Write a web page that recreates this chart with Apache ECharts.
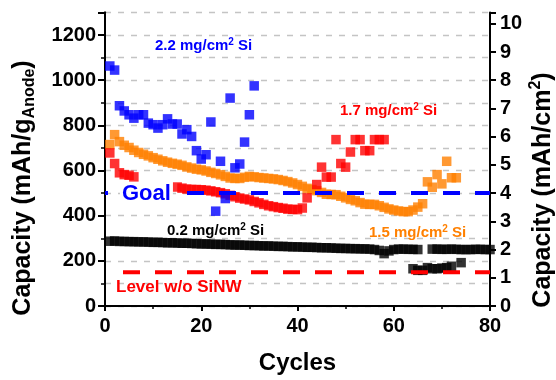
<!DOCTYPE html>
<html>
<head>
<meta charset="utf-8">
<script src="https://cdn.jsdelivr.net/npm/echarts@6/dist/echarts.min.js"></script>
<style>
  html, body { margin: 0; padding: 0; background: #fff; }
  #chart { width: 556px; height: 380px; }
</style>
</head>
<body>
<div id="chart"></div>
<script>
// Specific capacity (mAh/g anode) versus cycle number for four Si loadings.
const loading22Cycles = [1,2,3,4,5,6,7,8,9,10,11,12,13,14,15,16,17,18,19,20,21,22,23,24,25,26,27,28,29,30,31];
const loading22Values = [1063,1045,887,864,847,832,847,847,810,803,788,803,829,806,806,762,781,751,688,651,670,815,420,641,476,921,612,629,726,847,975];

const loading17Cycles = [1,2,3,4,5,6,
  15,16,17,18,19,20,21,22,23,24,25,26,27,28,29,30,31,32,33,34,35,36,37,38,39,40,41,
  42,44,45,46,47,48,49,50,51,52,53,54,55,56,57,58];
const loading17Values = [678,631,590,582,579,572,
  527,522,518,516,516,515,513,510,506,502,497,490,484,478,474,470,463,457,450,444,440,436,433,429,428,427,434,
  479,538,615,571,571,737,631,615,682,737,737,688,688,737,737,737];

const loading15Cycles = [1,2,3,4,5,6,7,8,9,10,11,12,13,14,15,16,17,18,19,20,21,22,23,24,25,26,27,28,29,30,
  31,32,33,34,35,36,37,38,39,40,41,42,43,44,45,46,47,48,49,50,51,52,53,54,55,56,57,58,59,60,
  61,62,63,64,65,66,67,68,69,70,71,72,73];
const loading15Values = [715,759,728,712,702,690,680,672,665,657,650,643,637,632,628,623,616,611,606,603,598,592,587,581,574,567,565,565,570,574,
  572,569,567,565,563,560,556,551,545,538,530,521,516,511,503,495,494,493,486,479,472,466,458,451,450,450,444,437,430,425,
  421,418,418,425,438,453,550,526,582,541,641,568,568];

const loading02Cycles = [1,2,3,4,5,6,7,8,9,10,11,12,13,14,15,16,17,18,19,20,21,22,23,24,25,26,27,28,29,30,
  31,32,33,34,35,36,37,38,39,40,41,42,43,44,45,46,47,48,49,50,51,52,53,54,55,56,57,58,59,60,
  61,62,63,64,65,68,69,70,71,72,73,74,75,76,77,78,79,80,
  64,65,66,67,68,69,70,71,72,74];
const loading02Values = [287,288,286,286,285,285,284,284,283,282,282,281,280,280,279,278,278,277,276,275,275,274,273,273,272,271,270,270,269,268,
  268,267,266,266,265,264,264,263,262,262,261,260,260,259,258,258,257,256,255,255,254,254,253,253,252,250,246,232,244,250,
  252,252,251,251,250,252,252,251,251,252,251,250,250,250,251,251,250,250,
  165,158,158,170,165,165,168,170,176,192];

// Reference levels
const goalLevel = 500;
const levelWithoutSiNW = 150;

// Axis settings
const cycleTicks = [0, 20, 40, 60, 80];
const leftLabelValues = [0, 200, 400, 600, 800, 1000, 1200];
const arealPerSpecific = 125; // mAh/g per mAh/cm2 on the right axis

const pairs = (xs, ys) => xs.map((x, i) => [x, ys[i]]);

const FONT = 'Liberation Sans, Arial, sans-serif';
const chart = echarts.init(document.getElementById('chart'), null, { renderer: 'canvas' });

const yMax = 1300;
const sq = 9.5;

// Annotation with a raised "2" in cm2
const loadingLabel = (left, top, value, color) => ({
  type: 'text', left, top, z: 10,
  style: {
    text: '{a|' + value + ' mg/cm}{p|2}{a| Si}',
    rich: {
      a: { fill: color, fontSize: 15, fontWeight: 'bold', fontFamily: FONT, lineHeight: 18 },
      p: { fill: color, fontSize: 10, fontWeight: 'bold', fontFamily: FONT, lineHeight: 10, verticalAlign: 'top' }
    }
  }
});

const option = {
  animation: false,
  backgroundColor: '#fff',
  grid: { left: 105, right: 66, top: 12.5, bottom: 73 },
  xAxis: [
    {
      type: 'value', min: cycleTicks[0], max: cycleTicks[cycleTicks.length - 1], interval: 20,
      axisLine: { lineStyle: { color: '#000', width: 2 } },
      axisTick: { length: 5, lineStyle: { color: '#000', width: 2 } },
      minorTick: { show: true, splitNumber: 2, length: 3, lineStyle: { color: '#000', width: 1.5 } },
      axisLabel: { color: '#000', fontSize: 20, fontWeight: 'bold', fontFamily: FONT, margin: 10 },
      splitLine: { show: false },
      name: 'Cycles', nameLocation: 'middle', nameGap: 45,
      nameTextStyle: { color: '#000', fontSize: 24, fontWeight: 'bold', fontFamily: FONT }
    },
    {
      type: 'value', position: 'top', min: 0, max: 80,
      axisLine: { lineStyle: { color: '#000', width: 2 } },
      axisTick: { show: false }, axisLabel: { show: false }, splitLine: { show: false }
    }
  ],
  yAxis: [
    {
      type: 'value', position: 'left', min: 0, max: yMax, interval: 100,
      axisLine: { show: true, lineStyle: { color: '#000', width: 2 } },
      axisTick: { show: true, length: 4, lineStyle: { color: '#000', width: 1.5 } },
      axisLabel: {
        color: '#000', fontSize: 20, fontWeight: 'bold', fontFamily: FONT, margin: 9,
        formatter: v => leftLabelValues.includes(v) ? String(v) : ''
      },
      splitLine: { show: true, lineStyle: { color: '#c4c4c4', width: 1.3, type: [6, 7] } }
    },
    {
      type: 'value', position: 'left', min: 0, max: yMax, interval: 200,
      axisLine: { show: true, lineStyle: { color: '#000', width: 2 } },
      axisTick: { show: true, length: 7, lineStyle: { color: '#000', width: 2 } },
      axisLabel: { show: false }, splitLine: { show: false }
    },
    {
      type: 'value', position: 'right', min: 0, max: yMax / arealPerSpecific, interval: 1,
      axisLine: { show: true, lineStyle: { color: '#000', width: 2 } },
      axisTick: { show: true, length: 6, lineStyle: { color: '#000', width: 2 } },
      axisLabel: {
        color: '#000', fontSize: 20, fontWeight: 'bold', fontFamily: FONT, margin: 10,
        formatter: v => (v <= 10 && Number.isInteger(v)) ? String(v) : ''
      },
      splitLine: { show: false }
    }
  ],
  series: [
    { name: '1.5 mg/cm2 Si', type: 'scatter', symbol: 'rect', symbolSize: sq, itemStyle: { color: '#ff8000' },
      data: pairs(loading15Cycles, loading15Values) },
    { name: '1.7 mg/cm2 Si', type: 'scatter', symbol: 'rect', symbolSize: sq, itemStyle: { color: '#ff0000' },
      data: pairs(loading17Cycles, loading17Values) },
    { name: '2.2 mg/cm2 Si', type: 'scatter', symbol: 'rect', symbolSize: sq, itemStyle: { color: '#0000ff' },
      data: pairs(loading22Cycles, loading22Values) },
    { name: '0.2 mg/cm2 Si', type: 'scatter', symbol: 'rect', symbolSize: sq, itemStyle: { color: '#000' },
      data: pairs(loading02Cycles, loading02Values) },
    { name: 'Goal', type: 'line', showSymbol: false, silent: true, z: 5,
      lineStyle: { color: '#0000ff', width: 4, type: [17, 15], dashOffset: 14, cap: 'butt' },
      data: [[0, goalLevel], [80, goalLevel]] },
    { name: 'Level w/o SiNW', type: 'line', showSymbol: false, silent: true, z: 5,
      lineStyle: { color: '#ff0000', width: 4, type: [17, 15], dashOffset: 0, cap: 'butt' },
      data: [[3.74, levelWithoutSiNW], [80, levelWithoutSiNW]] }
  ],
  graphic: [
    loadingLabel(155, 37, '2.2', '#0000ff'),
    loadingLabel(340, 102, '1.7', '#ff0000'),
    loadingLabel(167, 222, '0.2', '#000'),
    loadingLabel(369, 224, '1.5', '#ff8000'),
    { type: 'text', left: 120, top: 182, z: 10,
      style: { text: 'Goal', fill: '#0000ff', font: 'bold 22px ' + FONT, backgroundColor: '#fff', padding: [1, 2] } },
    { type: 'text', left: 116, top: 279, z: 10,
      style: { text: 'Level w/o SiNW', fill: '#ff0000', font: 'bold 17px ' + FONT } },
    { type: 'text', x: 23, y: 188, rotation: Math.PI / 2, z: 10,
      style: {
        text: '{a|Capacity (mAh/g}{s|Anode}{a|)}', align: 'center', verticalAlign: 'middle',
        rich: {
          a: { fill: '#000', fontSize: 25, fontWeight: 'bold', fontFamily: FONT, lineHeight: 30 },
          s: { fill: '#000', fontSize: 16, fontWeight: 'bold', fontFamily: FONT, lineHeight: 16, verticalAlign: 'bottom' }
        }
      } },
    { type: 'text', x: 543, y: 190, rotation: Math.PI / 2, z: 10,
      style: {
        text: '{a|Capacity (mAh/cm}{p|2}{a|)}', align: 'center', verticalAlign: 'middle',
        rich: {
          a: { fill: '#000', fontSize: 25, fontWeight: 'bold', fontFamily: FONT, lineHeight: 30 },
          p: { fill: '#000', fontSize: 16, fontWeight: 'bold', fontFamily: FONT, lineHeight: 16, verticalAlign: 'top' }
        }
      } }
  ]
};

chart.setOption(option);
</script>
</body>
</html>
